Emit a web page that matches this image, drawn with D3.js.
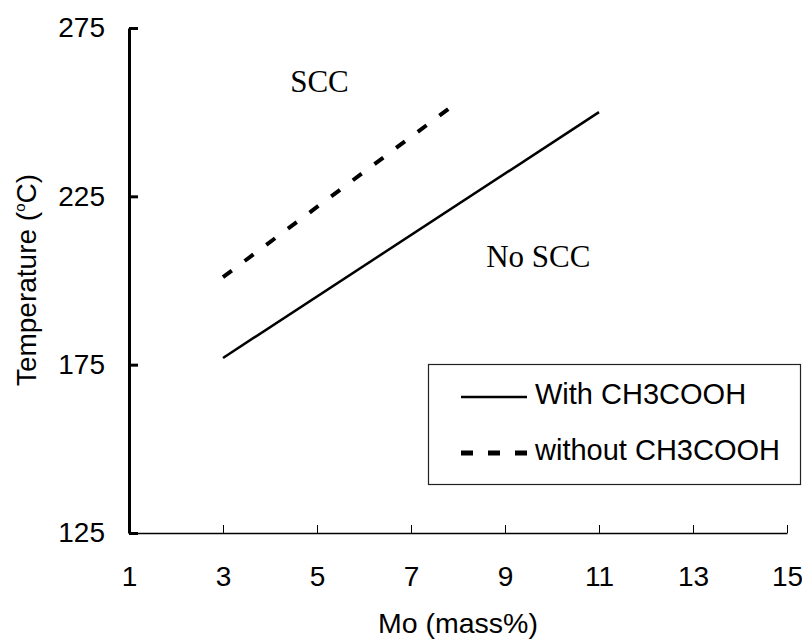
<!DOCTYPE html>
<html>
<head>
<meta charset="utf-8">
<script src="https://cdn.jsdelivr.net/npm/d3@7"></script>
<style>
  body { margin: 0; background: #fff; }
  text { font-family: "Liberation Sans", Arial, sans-serif; fill: #000; }
</style>
</head>
<body>
<svg width="802" height="639"></svg>
<script>
// series values
var withAcid = [{mo: 3, t: 177}, {mo: 11, t: 250}];
var withoutAcid = [{mo: 3, t: 201}, {mo: 7.8, t: 251}];
var xTicks = [1, 3, 5, 7, 9, 11, 13, 15];
var yTicks = [125, 175, 225, 275];
var regionLabels = [{text: "SCC", mo: 4.43, t: 256}, {text: "No SCC", mo: 8.6, t: 204}];
var legendItems = ["With CH3COOH", "without CH3COOH"];

var svg = d3.select("svg");

//scales: plot area spans 129..787 horizontally, 28..533 vertically
var x = d3.scaleLinear().domain([1, 15]).range([129, 787]);
var y = d3.scaleLinear().domain([125, 275]).range([533, 28]);

//x axis: thin line, ticks pointing up into the plot
var xAxis = svg.append("g")
    .attr("transform", "translate(0," + y(125) + ")")
    .call(d3.axisBottom(x).tickValues(xTicks).tickSize(-8).tickPadding(20).tickSizeOuter(0));
xAxis.select(".domain").attr("stroke", "#000").attr("stroke-width", 1.5);
xAxis.selectAll(".tick line").attr("stroke", "#000").attr("stroke-width", 1);
xAxis.selectAll(".tick text").attr("font-size", 28).attr("dy", "0.71em")
    .attr("y", 33);

//y axis: thick line, ticks pointing right
var yAxis = svg.append("g")
    .attr("transform", "translate(" + x(1) + ",0)")
    .call(d3.axisLeft(y).tickValues(yTicks).tickSize(-9).tickPadding(24).tickSizeOuter(0));
yAxis.select(".domain").attr("stroke", "#000").attr("stroke-width", 3);
yAxis.selectAll(".tick line").attr("stroke", "#000").attr("stroke-width", 3);
yAxis.selectAll(".tick text").attr("font-size", 28).attr("x", -24);

//axis titles
svg.append("text")
    .attr("x", (x(1) + x(15)) / 2)
    .attr("y", 633)
    .attr("text-anchor", "middle")
    .attr("font-size", 28.5)
    .text("Mo (mass%)");

var yTitle = svg.append("text")
    .attr("transform", "translate(36,280) rotate(-90)")
    .attr("text-anchor", "middle")
    .attr("font-size", 28);
yTitle.append("tspan").text("Temperature (");
yTitle.append("tspan").attr("font-size", 15).attr("dy", -11).text("o");
yTitle.append("tspan").attr("dy", 11).text("C)");

//the two boundary lines
var line = d3.line()
    .x(function(d) { return x(d.mo); })
    .y(function(d) { return y(d.t); });

svg.append("path")
    .datum(withAcid)
    .attr("d", line)
    .attr("fill", "none")
    .attr("stroke", "#000")
    .attr("stroke-width", 2.5);

svg.append("path")
    .datum(withoutAcid)
    .attr("d", line)
    .attr("fill", "none")
    .attr("stroke", "#000")
    .attr("stroke-width", 4)
    .attr("stroke-dasharray", "11,16");

//region labels
svg.selectAll(".region")
    .data(regionLabels)
    .enter().append("text")
    .attr("class", "region")
    .attr("x", function(d) { return x(d.mo); })
    .attr("y", function(d) { return y(d.t); })
    .attr("font-size", 31)
    .style("font-family", "'Liberation Serif', 'Times New Roman', serif")
    .text(function(d) { return d.text; });

//legend
var legend = svg.append("g").attr("transform", "translate(428,364)");
legend.append("rect")
    .attr("x", 0.5).attr("y", 0.5)
    .attr("width", 372).attr("height", 120)
    .attr("fill", "#fff")
    .attr("stroke", "#222")
    .attr("stroke-width", 1.2);

var item = legend.selectAll(".item")
    .data(legendItems)
    .enter().append("g")
    .attr("class", "item")
    .attr("transform", function(d, i) { return "translate(0," + (33 + i * 56) + ")"; });

item.append("line")
    .attr("x1", 33).attr("x2", 99)
    .attr("stroke", "#000")
    .attr("stroke-width", function(d, i) { return i ? 5 : 2.5; })
    .attr("stroke-dasharray", function(d, i) { return i ? "12,15" : null; });

item.append("text")
    .attr("x", 107)
    .attr("y", 7)
    .attr("font-size", 29)
    .text(function(d) { return d; });
</script>
</body>
</html>
